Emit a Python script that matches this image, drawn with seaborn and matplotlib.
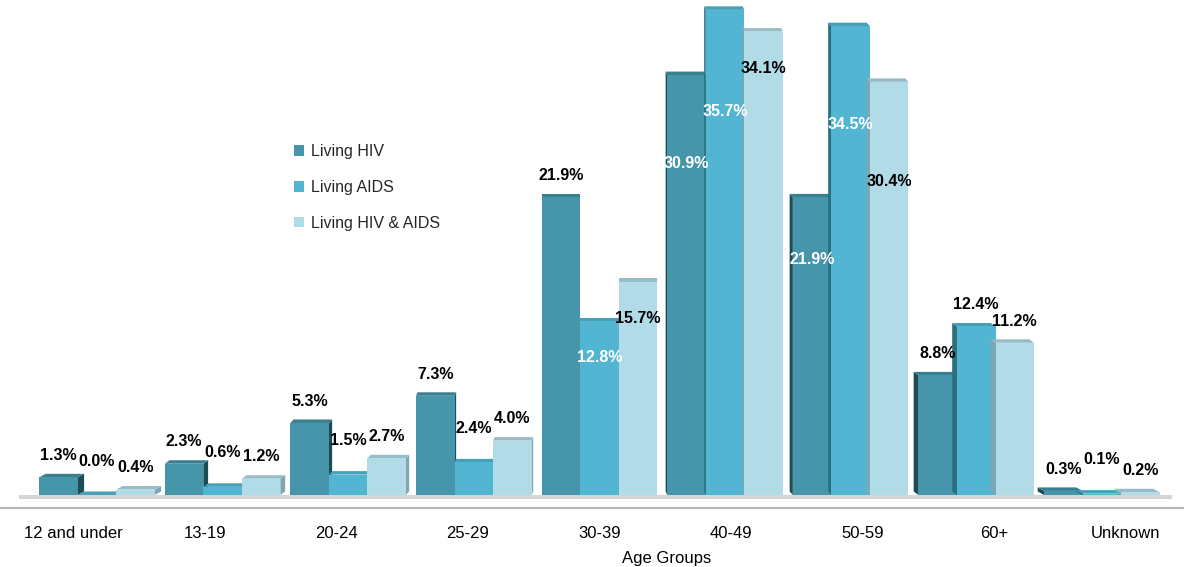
import matplotlib
matplotlib.use("Agg")
import matplotlib.pyplot as plt
import matplotlib.transforms as mtransforms
from matplotlib.patches import Polygon
import pandas as pd
import seaborn as sns

# data
age_groups = ["12 and under", "13-19", "20-24", "25-29", "30-39",
              "40-49", "50-59", "60+", "Unknown"]
series = ["Living HIV", "Living AIDS", "Living HIV & AIDS"]
living_hiv = [1.3, 2.3, 5.3, 7.3, 21.9, 30.9, 21.9, 8.8, 0.3]
living_aids = [0.0, 0.6, 1.5, 2.4, 12.8, 35.7, 34.5, 12.4, 0.1]
living_both = [0.4, 1.2, 2.7, 4.0, 15.7, 34.1, 30.4, 11.2, 0.2]

# label placement styles: (series index, group index)
inside_white = {(1, 4), (0, 5), (1, 5), (0, 6), (1, 6)}
inside_top_black = {(2, 4), (2, 5)}
inside_black = {(2, 6)}

colors = ["#4596ab", "#52b6d2", "#b2dbe8"]
side_colors = ["#1f4b57", "#2a6f80", "#7fa7b2"]
top_colors = ["#3a7f91", "#47a0b8", "#98bcc6"]

df = pd.DataFrame({
    "group": age_groups * 3,
    "series": [s for s in series for _ in age_groups],
    "value": living_hiv + living_aids + living_both,
})

sns.set_theme(style="white")
plt.rcParams["font.family"] = ["Liberation Sans", "DejaVu Sans"]

fig = plt.figure(figsize=(11.84, 5.67), dpi=100)
ax = fig.add_axes([0.0, 0.104, 1.0, 0.887])

sns.barplot(data=df, x="group", y="value", hue="series", palette=colors,
            width=0.92, saturation=1, linewidth=0, ax=ax, legend=True)

ax.set_xlim(-0.772, 8.654)
ax.set_ylim(-0.96, 36.05)

# pixel -> data conversions for the fake 3D depth
px_x = (8.654 + 0.772) / 1184
px_y = (36.05 + 0.96) / (0.887 * 567)

values = [living_hiv, living_aids, living_both]
for i, cont in enumerate(ax.containers):
    for j, bar in enumerate(cont):
        x0, w, h = bar.get_x(), bar.get_width(), bar.get_height()
        z = 2 + j * 3 + i
        bar.set_zorder(z + 0.5)
        dx = 1.6 * (4 - j) * px_x
        dy = 3.5 * px_y
        ex = x0 + w if dx >= 0 else x0
        side = Polygon([(ex, 0), (ex + dx, dy), (ex + dx, h + dy), (ex, h)],
                       closed=True, color=side_colors[i], zorder=z, lw=0)
        top = Polygon([(x0, h), (x0 + dx, h + dy), (x0 + w + dx, h + dy),
                       (x0 + w, h)], closed=True, color=top_colors[i],
                      zorder=z, lw=0)
        ax.add_patch(side)
        ax.add_patch(top)

        v = values[i][j]
        color = "black"
        if (i, j) in inside_white:
            y, color = v * 0.79, "white"
        elif (i, j) in inside_top_black:
            y = v - 2.7
        elif (i, j) in inside_black:
            y = v * 0.76
        else:
            y = v + 1.6 + (0.9 if (i == 1 and v < 5) else 0)
        ax.text(x0 + w / 2, y, f"{v:.1f}%", ha="center", va="center",
                fontsize=11.5, fontweight="bold", color=color, zorder=50)

# grey floor under the bars
ax.fill_between([-0.62, 8.56], -0.3, 0, color="#d4d4d4", zorder=1, lw=0)

sns.despine(ax=ax, left=True, top=True, right=True)
ax.spines["bottom"].set_color("#b5b5b5")
ax.spines["bottom"].set_linewidth(1.5)
ax.set_yticks([])
ax.set_ylabel("")
ax.tick_params(axis="x", length=0, pad=13, labelsize=12, colors="black")
# perspective shift of the category labels
for j, lab in enumerate(ax.get_xticklabels()):
    shift = mtransforms.ScaledTranslation(6 * (j - 4) / 100, 0,
                                          fig.dpi_scale_trans)
    lab.set_transform(lab.get_transform() + shift)
ax.set_xlabel("Age Groups", fontsize=12, color="black")
ax.xaxis.set_label_coords(0.563, -0.085)

ax.legend(loc="upper left", bbox_to_anchor=(0.236, 0.752),
          frameon=False, fontsize=11.5, handlelength=0.65,
          handleheight=0.65, handletextpad=0.4, labelspacing=1.3)

fig.savefig("out.png", dpi=100)
